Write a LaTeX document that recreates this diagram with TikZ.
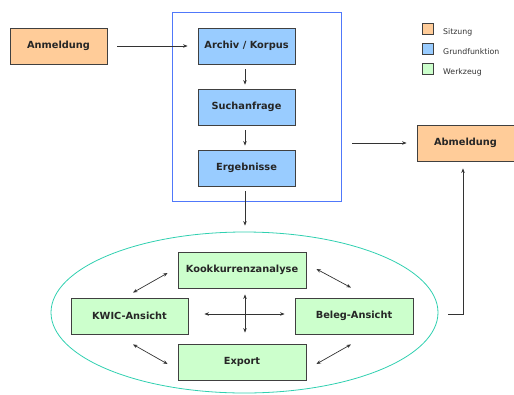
\documentclass[tikz,border=0pt]{standalone}
\usepackage{fontspec}
\setmainfont{DejaVu Sans}
\usetikzlibrary{arrows.meta,shapes.geometric}
\definecolor{orangefill}{HTML}{FFCC99}
\definecolor{bluefill}{HTML}{99CCFF}
\definecolor{greenfill}{HTML}{CCFFCC}
\definecolor{boxborder}{HTML}{404040}
\definecolor{outerblue}{RGB}{80,120,250}
\definecolor{ellcol}{HTML}{30D0B0}
\definecolor{arrowcol}{HTML}{333333}
\tikzset{
  box/.style={draw=boxborder, line width=0.8pt, minimum width=97pt, minimum height=36pt,
    inner sep=0pt, font=\fontsize{9.8}{11}\selectfont\bfseries, text=black!85},
  sitz/.style={box, fill=orangefill},
  grund/.style={box, fill=bluefill},
  werk/.style={box, fill=greenfill},
  legbox/.style={draw=boxborder, line width=0.7pt, minimum size=11pt, inner sep=0pt},
  legtext/.style={anchor=west, inner sep=0pt, font=\fontsize{7.8}{9}\selectfont, text=black!80},
  arr/.style={draw=arrowcol, line width=0.7pt, -{Stealth[length=4.5pt,width=3.5pt]}},
  darr/.style={draw=arrowcol, line width=0.7pt, {Stealth[length=4.5pt,width=3.5pt]}-{Stealth[length=4.5pt,width=3.5pt]}},
  outerbox/.style={rectangle, color=outerblue, draw, line width=1pt, minimum width=169pt, minimum height=189pt, inner sep=0pt}
}
\begin{document}
\begin{tikzpicture}[x=1pt,y=-1pt]
\useasboundingbox (0,0) rectangle (514,394);
% outer box
\node[outerbox] (outer) at (257,107) {};
% session
\node[sitz] (anm) at (58.5,46) {Anmeldung};
\node[sitz] (abm) at (465.5,143) {Abmeldung};
% basic functions
\node[grund] (arch) at (246.5,46) {Archiv / Korpus};
\node[grund] (such) at (246.5,107) {Suchanfrage};
\node[grund] (erg) at (246.5,168) {Ergebnisse};
% ellipse
\node[draw=ellcol, line width=0.8pt, ellipse, minimum width=387pt, minimum height=161pt, inner sep=0pt] (ell) at (244.5,312.5) {};
% tools
\node[werk, minimum width=128pt] (kook) at (242,270) {Kookkurrenzanalyse};
\node[werk, minimum width=117pt] (kwic) at (129.5,316) {KWIC-Ansicht};
\node[werk, minimum width=118pt] (beleg) at (354,316) {Beleg-Ansicht};
\node[werk, minimum width=128pt] (exp) at (242,362) {Export};
% legend
\node[legbox, fill=orangefill] (l1) at (427.5,28.5) {};
\node[legbox, fill=bluefill] (l2) at (427.5,48.5) {};
\node[legbox, fill=greenfill] (l3) at (427.5,68.5) {};
\node[legtext] (t1) at (443,32) {Sitzung};
\node[legtext] (t2) at (443,52) {Grundfunktion};
\node[legtext] (t3) at (443,72) {Werkzeug};
% arrows
\draw[arr, shorten <=10pt, shorten >=10pt] (anm.east) -- (arch.west);
\draw[arr, shorten <=5pt, shorten >=4pt] ([xshift=-1.5pt]arch.south) -- ([xshift=-1.5pt]such.north);
\draw[arr, shorten <=5pt, shorten >=4pt] ([xshift=-1.5pt]such.south) -- ([xshift=-1.5pt]erg.north);
\draw[arr, shorten <=5pt, shorten >=6pt] ([xshift=-1.5pt]erg.south) -- ([xshift=-1.5pt]erg.south |- ell.north);
\draw[arr, shorten <=10pt, shorten >=10pt] (outer.east |- abm.west) -- (abm.west);
\coordinate (ellout) at (448,314);
\draw[arr, shorten >=7pt] (ellout) -| (abm.south -| 463,0);
% tool arrows
\draw[darr] ([xshift=3.5pt,yshift=5pt]kwic.north) -- ([xshift=-10pt,yshift=-3pt]kook.west);
\draw[darr] ([xshift=10pt,yshift=1pt]kook.east) -- ([xshift=-3pt,yshift=10pt]beleg.north);
\draw[darr] ([xshift=3.5pt,yshift=-10pt]kwic.south) -- ([xshift=-10pt,yshift=-2pt]exp.west);
\draw[darr] ([xshift=10pt,yshift=-2pt]exp.east) -- ([xshift=-3pt,yshift=-10pt]beleg.south);
\draw[darr, shorten <=16pt, shorten >=10pt] ([yshift=2pt]kwic.east) -- ([yshift=2pt]beleg.west);
\draw[darr, shorten <=6pt, shorten >=11pt] ([xshift=3pt]kook.south) -- ([xshift=3pt]exp.north);
\end{tikzpicture}
\end{document}
